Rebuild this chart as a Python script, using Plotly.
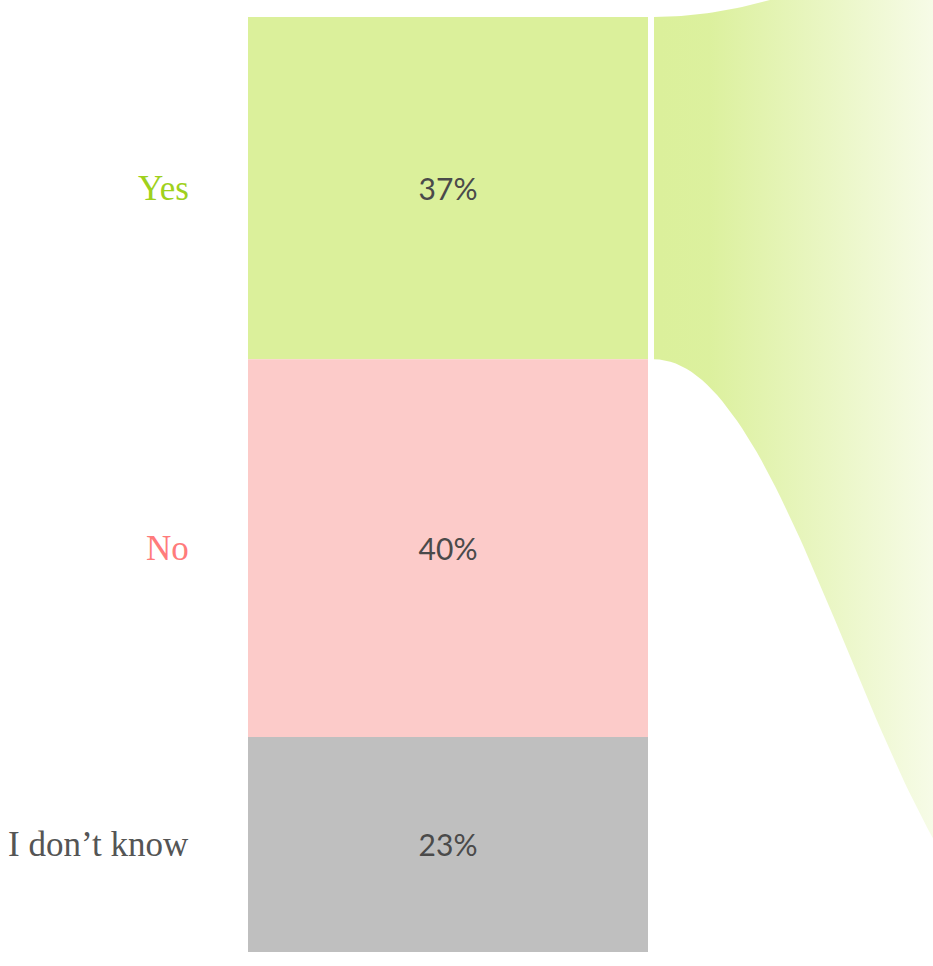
import numpy as np
import plotly.graph_objects as go

# ---- data ----
categories = ["Yes", "No", "I don’t know"]
shares = [36.6, 40.4, 23.0]          # percent
bar_colors = ["#dbf09b", "#fccbc9", "#bfbfbf"]
label_colors = ["#9fd11c", "#ff7b7b", "#555555"]

bases = list(np.cumsum([0] + shares[:-1]))

fig = go.Figure()

# ---- flow ribbon leaving the "Yes" segment ----
def bez(p0, p1, p2, p3, n=80):
    t = np.linspace(0, 1, n)
    b0, b1, b2, b3 = (1 - t) ** 3, 3 * t * (1 - t) ** 2, 3 * t ** 2 * (1 - t), t ** 3
    x = p0[0] * b0 + p1[0] * b1 + p2[0] * b2 + p3[0] * b3
    y = p0[1] * b0 + p1[1] * b1 + p2[1] * b2 + p3[1] * b3
    return x, y

y_top = bases[0]
y_bot = bases[0] + shares[0]
xs, c1, c2, xe = 654, 800, 894, 1040
tx, ty = bez((xs, y_top), (c1, y_top), (c2, y_top - 9.0), (xe, y_top - 9.0))
bx, by = bez((xs, y_bot), (c1, y_bot), (c2, y_bot + 62.0), (xe, y_bot + 62.0))
fx = np.concatenate([tx, bx[::-1]])
fy = np.concatenate([ty, by[::-1]])
fig.add_trace(go.Scatter(
    x=fx, y=fy, mode="lines", line=dict(width=0), fill="toself",
    fillgradient=dict(type="horizontal", start=660, stop=990,
                      colorscale=[[0, "rgba(219,240,155,1)"],
                                  [0.15, "rgba(219,240,155,0.97)"],
                                  [0.5, "rgba(219,240,155,0.6)"],
                                  [1, "rgba(219,240,155,0.05)"]]),
    hoverinfo="skip", showlegend=False,
))

# ---- stacked bar ----
for cat, val, base, col in zip(categories, shares, bases, bar_colors):
    fig.add_trace(go.Bar(
        x=[448], y=[val], base=[base], width=[400],
        marker=dict(color=col, line=dict(width=0)),
        text=[f"{round(val):.0f}%"], textposition="inside", insidetextanchor="middle",
        textfont=dict(family="Lato", size=30, color="#4a4a4a"),
        hoverinfo="skip", showlegend=False, name=cat,
    ))

# ---- category labels ----
for cat, val, base, col in zip(categories, shares, bases, label_colors):
    fig.add_annotation(
        x=191, y=base + val / 2, xref="x", yref="y", text=cat, showarrow=False,
        xanchor="right", yanchor="middle",
        font=dict(family="Liberation Serif", size=35, color=col),
    )

W, H = 933, 966
px_per_pct = 9.35
top_px = 17
fig.update_layout(
    width=W, height=H, margin=dict(l=0, r=0, t=0, b=0),
    paper_bgcolor="white", plot_bgcolor="white",
    barmode="overlay", showlegend=False, hovermode=False,
    xaxis=dict(range=[0, W], visible=False, fixedrange=True),
    yaxis=dict(range=[(H - top_px) / px_per_pct, -top_px / px_per_pct],
               visible=False, fixedrange=True),
)

fig.write_html(
    "out.html",
    config={"displayModeBar": False, "staticPlot": True},
    post_script="document.body.style.margin='0';document.body.style.overflow='hidden';",
)
